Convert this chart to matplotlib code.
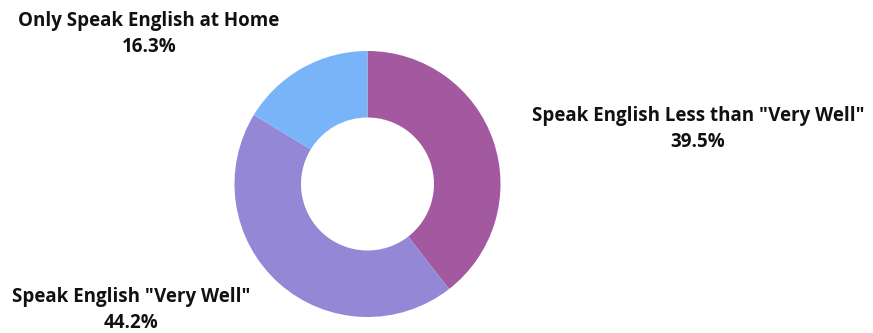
import matplotlib.pyplot as plt

labels = ['Speak English Less than "Very Well"', 'Speak English "Very Well"', 'Only Speak English at Home']
shares = [39.5, 44.2, 16.3]
colors = ["#A259A0", "#9488D6", "#78B4F7"]

plt.rcParams["font.family"] = ["Open Sans", "DejaVu Sans"]

fig = plt.figure(figsize=(8.73, 3.33), dpi=100)
ax = fig.add_axes([0, 0, 1, 1])
ax.axis("off")

ax.pie(shares, colors=colors, startangle=90, counterclock=False,
       center=(367.5, 149), radius=133,
       wedgeprops=dict(width=66.5, linewidth=0))
ax.set_xlim(0, 873)
ax.set_ylim(0, 333)
ax.set_aspect("equal")

# label positions (pixel coordinates, y from bottom)
label_pos = [(698, 204), (131, 23), (149, 299)]
for lab, val, (x, y) in zip(labels, shares, label_pos):
    ax.text(x, y, f"{lab}\n{val:.1f}%", ha="center", va="center",
            fontsize=13.5, fontweight="bold", color="#111111", linespacing=1.4)

fig.savefig("out.png", dpi=100)
